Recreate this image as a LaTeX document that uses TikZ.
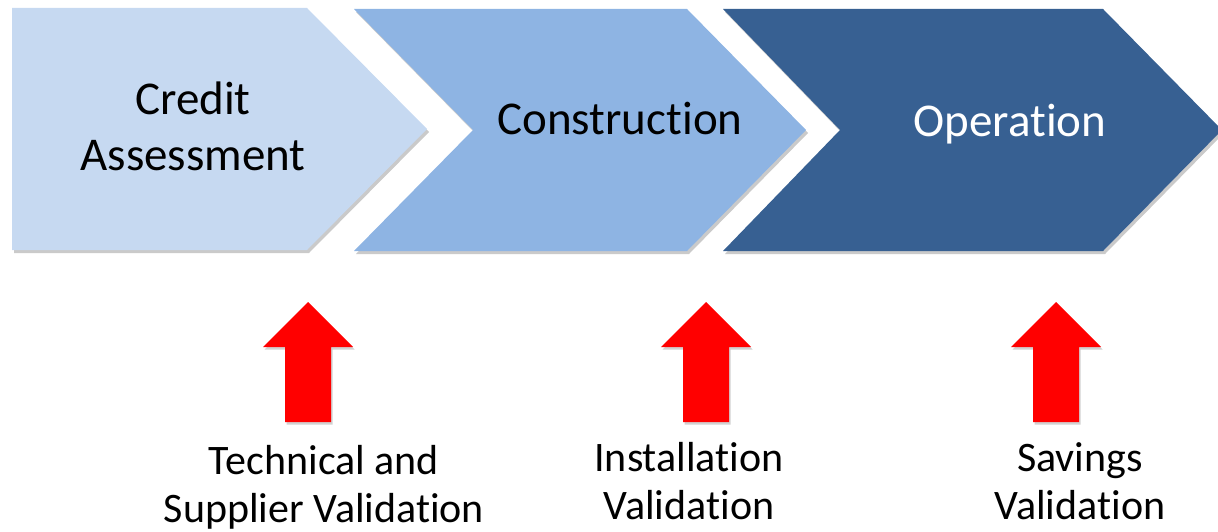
\documentclass[tikz,border=0pt]{standalone}
\usepackage{fontspec}
\setmainfont{Carlito}[Ligatures=NoCommon]
\usetikzlibrary{shadows}
\definecolor{chevA}{HTML}{C6D9F1}
\definecolor{chevB}{HTML}{8EB4E3}
\definecolor{chevC}{HTML}{376092}
\definecolor{arrred}{HTML}{FF0000}
\tikzset{
  chevshadow/.style={drop shadow={shadow xshift=2pt, shadow yshift=-3pt, opacity=0.35, fill=black!60}},
  phase/.style={font=\fontsize{47}{56}\selectfont, align=center, inner sep=0pt},
  checklabel/.style={font=\fontsize{42}{48}\selectfont, align=center, inner sep=0pt},
  redup/.style={fill=arrred, draw=none, drop shadow={shadow xshift=1.5pt, shadow yshift=-2.5pt, opacity=0.3, fill=black!60}}
}
\begin{document}
\begin{tikzpicture}[x=1pt,y=-1pt]
\useasboundingbox (0,0) rectangle (1218,532);
% chevrons
\path[fill=chevA, chevshadow] (12,8) -- (307,8) -- (427,129) -- (307,250) -- (12,250) -- cycle;
\path[fill=chevB, chevshadow] (354,9) -- (687,9) -- (806,130) -- (687,251) -- (354,251) -- (473,130) -- cycle;
\path[fill=chevC, chevshadow] (723,9) -- (1103,9) -- (1222,130) -- (1103,251) -- (723,251) -- (840,130) -- cycle;
% phase labels
\node[phase] (credit) at (193,126) {Credit\\Assessment};
\node[phase, anchor=base] (constr) at (620,135) {Construction};
\node[phase, anchor=base, text=white] (oper) at (1010,137) {Operation};
% red arrows
\foreach \cx/\nm in {308/a, 706/b, 1056/c}{
  \path[redup] (\cx,302) -- ({\cx+45},347) -- ({\cx+23},347) -- ({\cx+23},422)
     -- ({\cx-23},422) -- ({\cx-23},347) -- ({\cx-45},347) -- cycle;
}
% check labels
\node[checklabel] (tech) at (324,487) {Technical and\\Supplier Validation};
\node[checklabel] (inst) at (689,481) {Installation\\Validation};
\node[checklabel] (sav) at (1080,481) {Savings\\Validation};
\end{tikzpicture}
\end{document}
